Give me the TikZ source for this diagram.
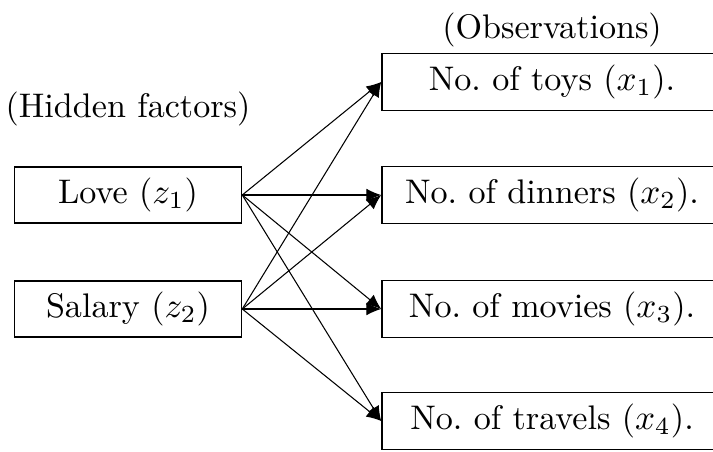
\documentclass[tikz,border=0pt]{standalone}
\usetikzlibrary{arrows.meta}
\begin{document}
\begin{tikzpicture}[x=0.01cm,y=0.01cm,
  every node/.style={font=\fontsize{9.7}{11.6}\selectfont},
  hid/.style={draw,minimum width=2.27cm,minimum height=0.56cm,inner sep=0pt},
  obs/.style={draw,minimum width=3.4cm,minimum height=0.57cm,inner sep=0pt},
  lbl/.style={inner sep=0pt},
  conn/.style={-{Latex[length=4.2pt,width=3.6pt]},line width=0.3pt}]
\useasboundingbox (0,0) rectangle (713,451);
\begin{scope}
\clip (0,0) rectangle (713,451);
\node[lbl] (hl) at (128,342) {(Hidden factors)};
\node[lbl] (ol) at (552,421) {(Observations)};
\node[hid] (z1) at (128,256) {Love ($z_1$)};
\node[hid] (z2) at (128,142) {Salary ($z_2$)};
\node[obs] (x1) at (552,369) {No.\ of toys ($x_1$).};
\node[obs] (x2) at (552,256) {No.\ of dinners ($x_2$).};
\node[obs] (x3) at (552,142) {No.\ of movies ($x_3$).};
\node[obs] (x4) at (552,30) {No.\ of travels ($x_4$).};
\foreach \s in {z1,z2}
  \foreach \t in {x1,x2,x3,x4}
    \draw[conn] (\s.east) -- (\t.west);
\end{scope}
\end{tikzpicture}
\end{document}
